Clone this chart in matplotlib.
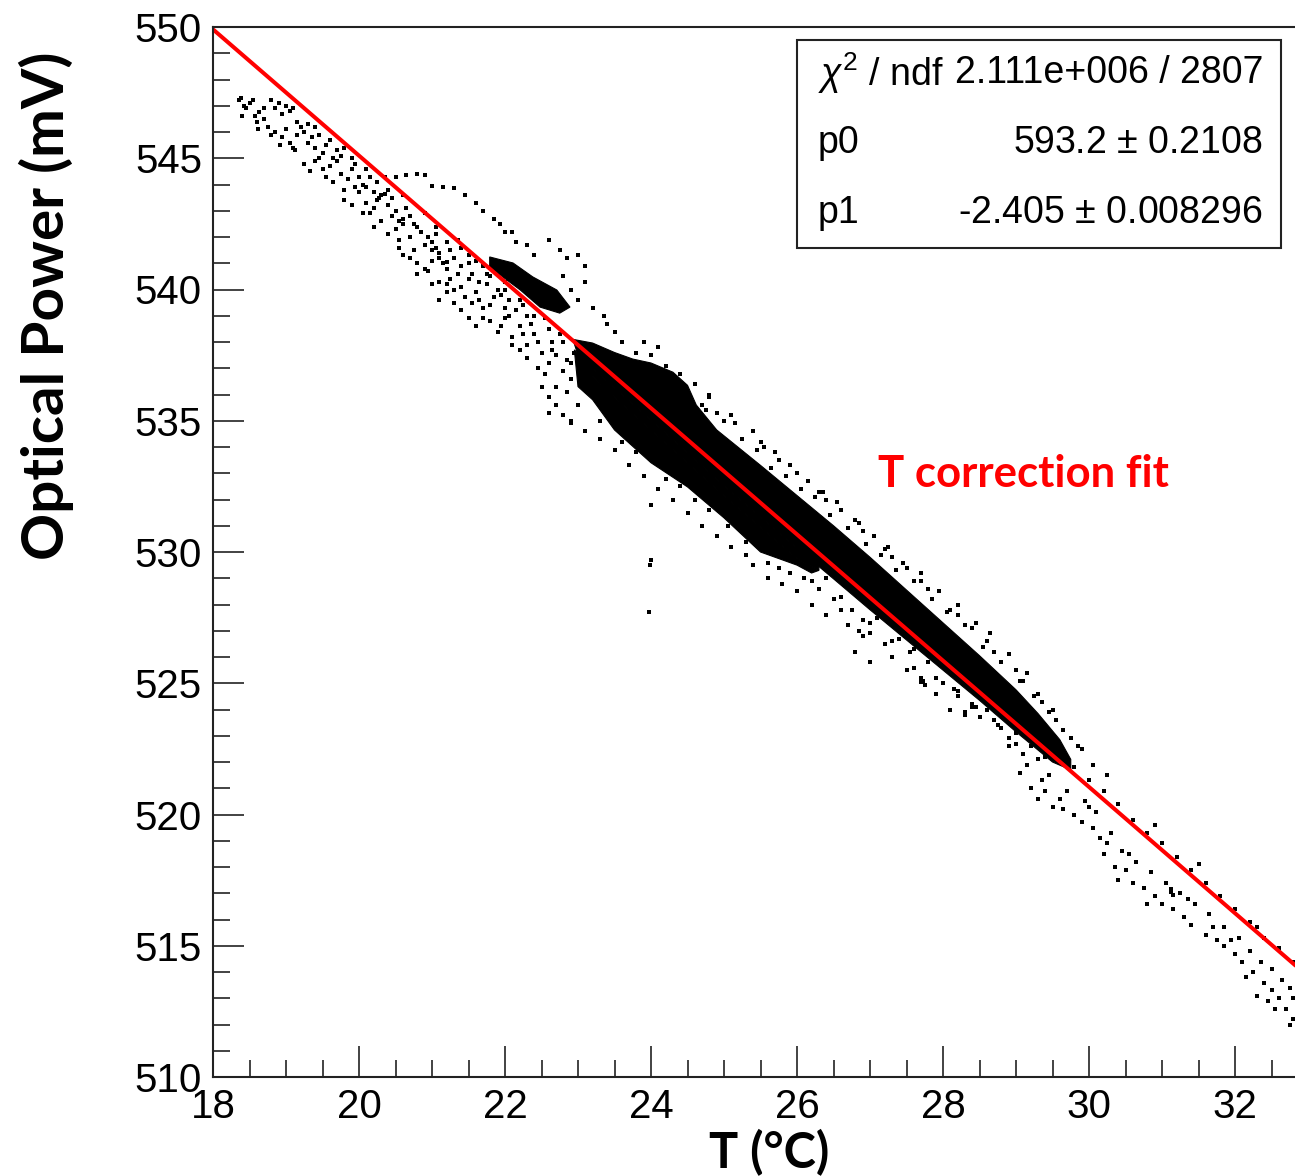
import matplotlib
matplotlib.use("Agg")
import matplotlib.pyplot as plt
import matplotlib.patches
import matplotlib.ticker
import numpy

# fit result shown in the stats box (pol1: p0 + p1 * T)
fit_p0 = 593.2
fit_p1 = -2.405
fit_t_range = [18.0, 33.0]
stats_rows = [("$\\chi^{2}$ / ndf", "2.111e+006 / 2807"),
              ("p0", "593.2 $\\pm$ 0.2108"),
              ("p1", "-2.405 $\\pm$ 0.008296")]

x_major = [18, 20, 22, 24, 26, 28, 30, 32]
y_major = [510, 515, 520, 525, 530, 535, 540, 545, 550]

# dense regions of the scatter, traced as outlines (T, mV)
blob_22 = [(21.79, 541.24), (22.11, 541.01), (22.38, 540.48), (22.71, 539.98), (22.89, 539.33),
           (22.75, 539.10), (22.48, 539.33), (22.21, 539.98), (21.97, 540.48), (21.79, 540.86)]
core_band = [(22.93, 538.10), (23.2, 537.96), (23.5, 537.60), (23.75, 537.35), (24.0, 537.20),
             (24.3, 536.85), (24.5, 536.35), (24.62, 535.60), (24.9, 534.65), (25.5, 533.30),
             (26.0, 532.15), (26.5, 531.00), (27.0, 529.80), (27.5, 528.55), (28.0, 527.30),
             (28.5, 526.05), (29.0, 524.75), (29.3, 523.85), (29.6, 522.85), (29.75, 522.10),
             (29.75, 521.70), (29.5, 522.00), (29.0, 523.15), (28.5, 524.35), (28.0, 525.50),
             (27.5, 526.65), (27.0, 527.80), (26.5, 528.98), (26.0, 530.15), (25.5, 531.33),
             (25.0, 532.52), (24.5, 533.78), (24.0, 535.02), (23.5, 536.25), (23.2, 537.00),
             (23.0, 537.50)]
# strip between the core and the lower band
speckle_strip = [(23.2, 537.00), (23.5, 536.25), (24.0, 535.02), (24.5, 533.78), (25.0, 532.52),
                 (25.5, 531.33), (26.0, 530.15), (26.3, 529.50), (26.3, 529.30), (26.0, 529.75),
                 (25.5, 530.95), (25.0, 532.15), (24.5, 533.40), (24.0, 534.65), (23.5, 535.90),
                 (23.2, 536.70)]
lower_band = [(22.95, 537.70), (23.2, 537.05), (23.2, 536.70), (23.5, 535.90), (24.0, 534.65),
              (24.5, 533.40), (25.0, 532.15), (25.5, 530.95), (26.0, 529.75), (26.3, 529.30),
              (26.2, 529.20), (26.0, 529.50), (25.5, 530.00), (25.0, 531.30), (24.5, 532.48),
              (24.0, 533.40), (23.5, 534.65), (23.2, 535.80), (23.0, 536.30)]

# sparse points (T, mV)
cold_points = [(18.35, 547.2), (18.42, 547.0), (18.5, 547.1), (18.45, 546.9), (18.38, 547.3),
               (18.58, 546.6), (18.63, 546.75), (18.62, 546.1), (18.75, 546.2), (18.85, 546.0),
               (18.95, 545.8), (19.05, 545.6), (19.1, 545.4), (18.92, 545.5), (19.12, 545.3),
               (18.8, 547.2), (18.9, 547.1), (18.85, 546.9), (19.0, 547.0), (19.05, 546.8),
               (18.95, 546.7), (19.1, 546.9), (19.25, 546.0), (19.35, 545.8), (19.3, 545.6),
               (19.45, 545.9), (19.55, 545.5), (19.6, 545.7), (19.7, 545.3), (19.25, 544.8),
               (19.33, 544.5), (19.45, 545.0), (19.6, 544.7), (19.7, 544.9), (19.75, 544.4),
               (19.85, 544.2), (19.9, 544.6), (19.95, 543.9), (20.0, 544.3), (19.55, 544.3),
               (19.8, 543.8), (19.8, 543.4), (19.9, 543.2), (20.2, 543.7), (20.3, 543.6),
               (20.28, 543.5), (20.35, 543.65), (20.25, 543.4), (20.1, 543.3), (20.15, 542.9),
               (20.4, 543.2), (20.45, 542.8), (20.05, 542.9), (20.3, 542.6), (20.5, 542.3),
               (20.6, 542.7), (20.7, 542.0), (20.85, 542.2), (20.9, 541.7), (20.55, 541.9),
               (20.75, 541.5), (21.0, 541.8), (20.4, 542.1), (20.2, 542.4), (20.6, 541.3),
               (20.8, 541.0), (21.0, 541.1), (21.2, 540.8), (21.1, 541.4), (21.3, 541.2),
               (20.95, 540.7), (21.35, 540.6), (21.1, 540.3), (21.3, 540.0), (21.5, 540.4),
               (21.6, 539.9), (21.75, 540.2), (21.85, 539.7), (21.45, 539.7), (21.9, 540.0),
               (20.35, 544.3), (20.5, 544.3), (20.65, 544.35), (20.8, 544.4), (20.9, 544.35),
               (21.0, 543.95), (21.15, 543.9), (21.3, 543.85), (21.45, 543.6), (21.6, 543.3),
               (21.7, 543.0), (21.85, 542.7), (21.93, 542.5), (22.0, 542.2), (22.15, 541.8),
               (19.4, 546.2), (19.8, 545.4), (20.1, 544.6), (20.6, 543.6), (21.05, 542.4),
               (21.4, 541.6), (21.7, 540.9), (22.0, 540.3), (18.55, 547.2), (18.7, 546.9),
               (19.15, 546.4), (19.2, 546.2), (19.4, 545.4), (19.5, 545.2), (19.65, 544.1),
               (19.75, 545.1), (19.95, 544.8), (20.05, 544.0), (20.15, 544.3), (20.2, 543.1),
               (20.45, 543.5), (20.5, 543.0), (20.6, 542.5), (20.65, 543.1), (20.7, 542.8),
               (20.8, 542.4), (20.95, 542.0), (21.05, 541.6), (21.15, 541.0), (21.25, 541.5),
               (21.4, 540.9), (21.5, 541.0), (21.55, 540.6), (21.65, 540.3), (21.8, 540.5),
               (21.0, 541.5), (21.1, 541.2), (21.2, 541.05), (18.4, 546.6), (18.6, 546.4),
               (18.7, 546.5), (18.8, 545.9), (19.0, 546.1), (19.15, 545.9), (19.3, 546.3),
               (19.4, 544.9), (19.5, 544.6), (19.65, 545.0), (19.9, 545.0), (20.0, 543.7),
               (20.1, 543.9), (20.25, 544.1), (20.4, 543.8), (20.55, 542.6), (20.75, 542.5),
               (20.9, 542.9), (21.05, 542.1), (21.2, 541.8), (21.35, 541.9), (21.5, 541.3),
               (21.6, 541.1), (21.75, 540.6), (21.85, 540.9), (22.0, 540.0), (22.2, 539.6),
               (22.4, 539.0), (20.55, 541.6), (20.7, 541.2), (20.9, 540.8), (21.25, 540.4),
               (21.4, 540.1), (21.65, 539.6), (21.8, 539.4), (22.05, 539.0), (22.25, 538.3),
               (22.45, 538.0), (22.65, 537.7), (22.9, 537.2)]
mid_points = [(21.7, 539.3), (21.8, 538.8), (21.9, 538.4), (22.0, 538.9), (22.1, 538.2),
              (22.2, 538.6), (22.3, 537.9), (22.4, 538.3), (22.5, 537.6), (22.6, 537.2),
              (22.7, 537.5), (22.8, 536.9), (22.2, 537.7), (22.45, 537.0), (22.9, 536.6),
              (22.0, 539.3), (22.3, 539.0), (22.6, 538.5), (22.8, 538.0), (22.95, 537.6),
              (20.8, 540.6), (21.0, 540.2), (21.2, 539.9), (21.3, 539.5), (21.4, 539.2),
              (21.5, 538.9), (21.6, 538.6), (21.1, 539.6), (22.5, 536.3), (22.6, 535.9),
              (22.7, 535.6), (22.8, 535.2), (22.9, 534.9), (22.9, 540.0), (23.0, 539.6),
              (23.2, 539.3), (23.35, 539.0), (23.4, 538.7), (23.1, 540.3), (23.5, 538.4),
              (22.8, 540.5), (22.1, 542.2), (22.3, 541.7), (22.4, 541.3), (23.6, 538.0),
              (23.8, 537.6), (24.0, 537.5), (24.2, 537.1), (24.4, 536.8), (24.6, 536.4),
              (24.8, 536.0), (24.7, 535.6), (24.9, 535.3), (23.9, 538.0), (24.1, 537.8),
              (22.6, 535.3), (22.9, 535.0), (23.1, 534.6), (23.3, 534.3), (23.5, 533.9),
              (23.7, 533.3), (23.9, 532.9), (24.1, 532.4), (24.3, 532.0), (24.5, 531.5),
              (24.7, 531.0), (24.9, 530.6), (25.1, 530.2), (25.3, 529.9), (21.95, 539.8),
              (22.05, 539.6), (22.15, 539.2), (22.25, 539.4), (22.35, 538.7), (22.55, 538.9),
              (22.65, 538.0), (22.75, 538.3), (22.85, 537.3), (21.2, 540.2), (21.55, 539.5),
              (21.7, 538.9), (21.95, 538.6), (22.1, 537.9), (22.3, 537.4), (22.55, 536.8),
              (22.7, 536.3), (22.85, 536.1), (23.0, 535.6), (22.6, 541.9), (22.75, 541.5),
              (22.85, 541.2), (23.0, 541.3), (23.1, 540.9), (23.3, 535.0), (23.6, 534.2),
              (23.8, 533.8), (24.2, 532.8), (24.4, 532.5), (24.6, 532.0), (24.8, 531.6),
              (25.05, 531.0), (25.3, 530.4), (25.6, 529.6), (25.75, 529.4)]
warm_points = [(25.4, 529.5), (25.6, 529.0), (25.8, 528.8), (26.0, 528.5), (26.2, 528.0),
               (26.4, 527.6), (26.5, 528.2), (26.7, 527.2), (26.9, 526.8), (27.0, 527.3),
               (27.2, 526.5), (26.3, 528.6), (26.1, 529.0), (26.6, 527.8), (26.85, 527.0),
               (25.9, 529.2), (26.8, 526.2), (27.0, 525.8), (27.3, 526.0), (27.5, 525.5),
               (27.6, 526.3), (27.8, 525.8), (28.0, 525.0), (28.2, 524.7), (28.4, 524.2),
               (27.4, 526.7), (27.7, 525.2), (27.9, 524.6), (28.1, 524.0), (27.7, 525.05),
               (27.75, 524.95), (27.72, 525.1), (24.8, 535.9), (25.1, 535.2), (25.4, 534.6),
               (25.7, 533.8), (26.0, 533.0), (26.3, 532.3), (26.6, 531.6), (26.9, 530.8),
               (27.2, 530.1), (27.5, 529.4), (27.8, 528.6), (28.1, 527.8), (28.4, 527.1),
               (28.7, 526.2), (29.0, 525.5), (29.3, 524.6), (29.5, 524.0), (25.5, 534.2),
               (25.9, 533.3), (26.4, 532.0), (26.8, 531.2), (27.3, 529.8), (27.7, 528.9),
               (28.2, 527.6), (28.6, 526.6), (29.1, 525.1), (25.0, 535.0), (25.25, 534.3),
               (25.45, 533.9), (25.65, 533.2), (25.85, 532.9), (26.05, 532.4), (26.25, 532.1),
               (26.45, 531.4), (26.7, 530.9), (26.95, 530.3), (27.15, 529.9), (27.35, 529.3),
               (27.6, 528.9), (27.85, 528.2), (28.05, 527.7), (28.3, 527.2), (28.55, 526.4),
               (28.8, 525.8), (29.05, 525.1), (29.25, 524.5), (29.45, 523.9), (29.65, 523.2),
               (26.4, 529.0), (26.6, 528.3), (26.9, 527.4), (27.1, 527.5), (27.3, 526.6),
               (27.55, 526.2), (27.9, 525.2), (28.15, 524.8), (28.45, 524.1), (28.75, 523.4),
               (29.0, 522.7), (29.3, 522.1), (26.2, 528.9), (26.75, 527.8), (27.0, 526.9),
               (27.6, 525.6), (28.3, 523.9), (28.9, 522.6), (24.75, 535.4), (25.15, 534.9),
               (25.55, 534.0), (25.75, 533.5), (26.15, 532.7), (26.35, 532.3), (26.55, 531.9),
               (26.85, 531.1), (27.05, 530.6), (27.25, 530.2), (27.45, 529.6), (27.7, 529.2),
               (27.95, 528.5), (28.2, 528.0), (28.45, 527.3), (28.65, 526.9), (28.9, 526.1),
               (29.15, 525.4), (29.35, 524.3), (29.55, 523.6), (29.75, 522.9), (29.9, 522.5)]
hot_points = [(28.2, 524.5), (28.4, 524.1), (28.5, 523.7), (28.6, 524.0), (28.8, 523.3),
              (28.9, 522.9), (29.0, 523.1), (29.2, 522.6), (29.4, 522.2), (28.3, 523.8),
              (28.7, 523.6), (29.1, 522.3), (29.05, 521.6), (29.2, 521.0), (29.3, 520.6),
              (29.4, 520.9), (29.5, 520.3), (29.65, 520.2), (29.8, 520.0), (29.9, 519.7),
              (30.05, 519.5), (30.15, 519.1), (29.6, 520.6), (29.35, 521.3), (30.2, 518.5),
              (30.35, 518.0), (30.5, 517.9), (30.6, 517.4), (30.75, 517.2), (30.9, 516.9),
              (31.0, 516.6), (31.15, 516.4), (31.3, 516.1), (30.4, 517.5), (30.8, 516.6),
              (31.12, 517.05), (31.15, 516.95), (31.13, 517.15), (31.4, 515.8), (31.6, 515.4),
              (31.7, 515.7), (31.85, 515.0), (32.0, 514.7), (32.1, 514.4), (32.25, 514.0),
              (32.4, 513.6), (32.5, 513.3), (32.6, 513.0), (32.7, 512.6), (32.8, 512.2),
              (31.95, 515.2), (32.3, 513.1), (32.55, 512.6), (29.8, 521.8), (30.0, 521.3),
              (30.2, 520.9), (30.4, 520.4), (30.6, 519.8), (30.8, 519.3), (31.0, 518.9),
              (31.2, 518.4), (31.4, 517.9), (31.6, 517.4), (31.8, 516.9), (32.0, 516.4),
              (32.2, 515.9), (32.4, 515.3), (32.6, 514.9), (32.8, 514.4), (30.9, 519.6),
              (31.5, 518.1), (32.3, 515.7), (29.85, 522.6), (30.05, 521.9), (30.25, 521.5),
              (29.15, 521.9), (29.45, 521.5), (29.7, 520.9), (30.0, 520.3), (30.3, 519.3),
              (30.45, 518.6), (30.65, 518.2), (30.85, 517.8), (31.05, 517.4), (31.25, 517.0),
              (31.45, 516.6), (31.65, 516.2), (31.85, 515.7), (32.05, 515.3), (32.2, 514.8),
              (32.35, 514.4), (32.5, 514.1), (32.65, 513.7), (32.75, 513.4), (32.8, 513.0),
              (30.25, 518.9), (30.55, 518.5), (31.35, 516.8), (31.75, 515.2), (32.15, 513.8),
              (32.45, 512.9), (32.75, 512.0), (30.1, 520.1), (29.95, 520.5)]
stray_points = [(24.0, 531.8), (24.0, 529.7), (23.98, 529.5), (23.97, 527.7)]

W, H = 1295, 1176


def px_x(x):
    return x / float(W)


def px_y(y):
    return 1.0 - y / float(H)


def plot_optical_power():
    plt.rcParams['mathtext.fontset'] = 'custom'
    plt.rcParams['mathtext.rm'] = 'Liberation Sans'
    plt.rcParams['mathtext.it'] = 'Liberation Sans:italic'

    fig = plt.figure(figsize=(W / 100.0, H / 100.0), dpi=100)
    # axes runs a bit past the right edge of the picture (xmax 33 is cut off)
    ax = fig.add_axes([px_x(213), px_y(1077), (1308 - 213) / float(W), (1077 - 27) / float(H)])

    for outline in [speckle_strip, blob_22, core_band, lower_band]:
        pts = numpy.array(outline)
        ax.fill(pts[:, 0], pts[:, 1], color="black", lw=0.8)

    for group in [cold_points, mid_points, warm_points, hot_points, stray_points]:
        pts = numpy.array(group)
        ax.plot(pts[:, 0], pts[:, 1], "s", color="black", markersize=2.8, markeredgewidth=0)

    t_line = numpy.array(fit_t_range)
    ax.plot(t_line, fit_p0 + fit_p1 * t_line, color="red", lw=2.9, solid_capstyle="butt")

    ax.set_xlim(18, 33)
    ax.set_ylim(510, 550)
    ax.set_xticks(x_major)
    ax.set_yticks(y_major)
    ax.xaxis.set_minor_locator(matplotlib.ticker.MultipleLocator(0.5))
    ax.yaxis.set_minor_locator(matplotlib.ticker.MultipleLocator(1))
    ax.tick_params(which="both", direction="in", top=False, right=False, width=1.2, color="#222222")
    ax.tick_params(which="major", length=22, labelsize=29, pad=8)
    ax.tick_params(which="minor", length=12)
    for lab in ax.get_xticklabels() + ax.get_yticklabels():
        lab.set_fontfamily("Liberation Sans")
    for side in ["left", "bottom", "top"]:
        ax.spines[side].set_linewidth(1.5)
        ax.spines[side].set_color("#222222")
    ax.spines["right"].set_visible(False)

    # stats box
    box = matplotlib.patches.Rectangle((px_x(797), px_y(248)), (1281 - 797) / float(W), (248 - 40) / float(H),
                                       transform=fig.transFigure, fill=False, lw=1.5, edgecolor="#222222")
    fig.patches.append(box)
    for i, (name, value) in enumerate(stats_rows):
        y = px_y(73 + 70 * i)
        fig.text(px_x(818), y, name, fontsize=27, family="Liberation Sans", va="center", ha="left")
        fig.text(px_x(1263), y, value, fontsize=27, family="Liberation Sans", va="center", ha="right")

    fig.text(px_x(1023), px_y(474), "T correction fit", color="red", fontsize=31.5, fontweight="bold",
             family="Lato", ha="center", va="center")
    fig.text(px_x(46), px_y(306), "Optical Power (mV)", fontsize=42, fontweight="bold", family="Lato",
             rotation=90, ha="center", va="center")
    fig.text(px_x(769), px_y(1153), "T (\u00b0C)", fontsize=35, fontweight="bold", family="Lato",
             ha="center", va="center")

    fig.savefig("out.png", dpi=100)


if __name__ == "__main__":
    plot_optical_power()
